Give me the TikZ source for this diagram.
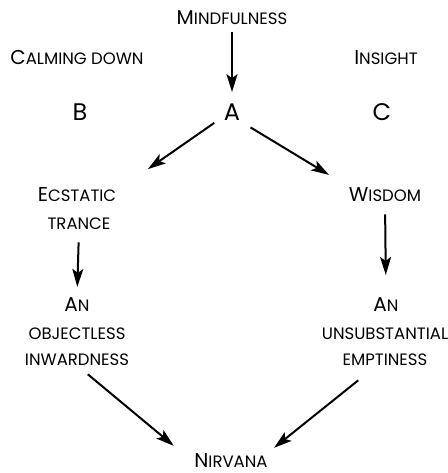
\documentclass[tikz,border=0pt]{standalone}
\usepackage{fontspec}
\setmainfont{Poppins}
\usetikzlibrary{arrows.meta}

% first letter large, the rest as small capitals
\newcommand\scword[2]{{\fontsize{20pt}{20pt}\selectfont #1}{\fontsize{16.5pt}{16.5pt}\selectfont #2}}
\newcommand\letter[1]{{\fontsize{24pt}{24pt}\selectfont #1}}

\begin{document}
\begin{tikzpicture}
[every node/.style={inner sep=0pt, anchor=base},
 link/.style={line width=2pt, -{Stealth[length=18pt, width=11pt, inset=4pt]}}]
\useasboundingbox (0pt, 0pt) rectangle (447pt, -473pt);
\node (mind) at (232pt, -25pt) {\scword{M}{INDFULNESS}};
\node (calm) at (77pt, -65pt) {\scword{C}{ALMING DOWN}};
\node (ins) at (386pt, -65pt) {\scword{I}{NSIGHT}};
\node (b) at (80pt, -121pt) {\letter{B}};
\node (a) at (232pt, -121pt) {\letter{A}};
\node (c) at (382pt, -121pt) {\letter{C}};
\node (ecs) at (77pt, -201pt) {\scword{E}{CSTATIC}};
\node (tra) at (79pt, -229pt) {\scword{}{TRANCE}};
\node (anl) at (77pt, -311pt) {\scword{A}{N}};
\node (obj) at (77pt, -339pt) {\scword{}{OBJECTLESS}};
\node (inw) at (77pt, -365pt) {\scword{}{INWARDNESS}};
\node (wis) at (385pt, -201pt) {\scword{W}{ISDOM}};
\node (anr) at (386pt, -311pt) {\scword{A}{N}};
\node (uns) at (385pt, -339pt) {\scword{}{UNSUBSTANTIAL}};
\node (emp) at (385pt, -365pt) {\scword{}{EMPTINESS}};
\node (nirv) at (231pt, -467pt) {\scword{N}{IRVANA}};
\draw [link, shorten <=7pt, shorten >=12pt] (mind.south) to (a.north);
\draw [link, shorten <=3pt, shorten >=31pt] ([xshift=-7pt]a.south west) to ([xshift=6pt]ecs.north east);
\draw [link, shorten <=12pt, shorten >=23pt] (a.south east) to (wis.north west);
\draw [link, shorten <=13pt, shorten >=10pt] (tra.south) to (anl.north);
\draw [link, shorten <=13pt, shorten >=22pt] (wis.south) to (anr.north);
\draw [link, shorten <=14pt, shorten >=11pt] (inw.south) to ([xshift=-12pt]nirv.north west);
\draw [link, shorten <=24pt, shorten >=8pt] ([xshift=-8pt]emp.south) to (nirv.north east);
\end{tikzpicture}
\end{document}
